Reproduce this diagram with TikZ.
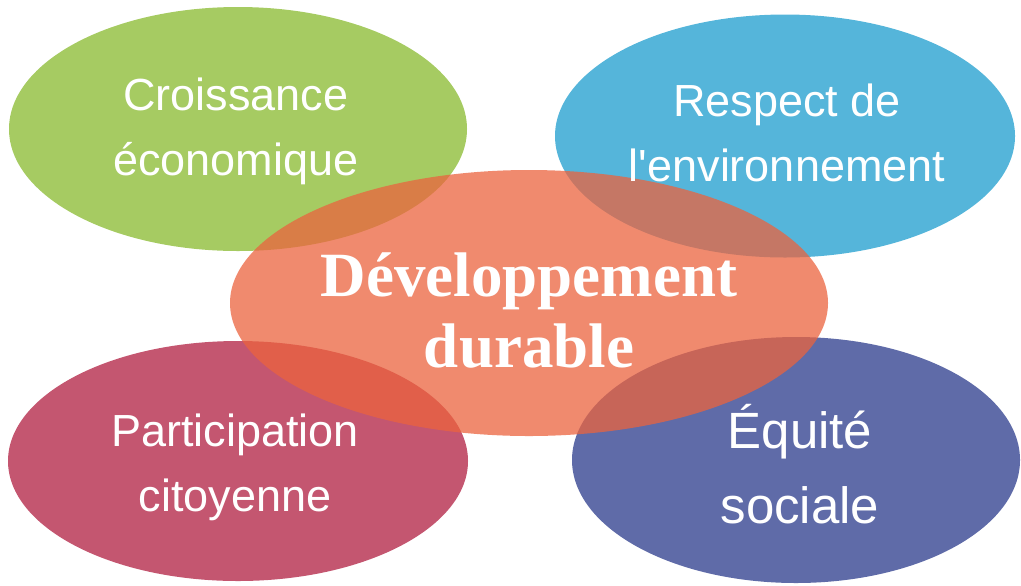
\documentclass[tikz,border=0pt]{standalone}
\usepackage{fontspec}
\setmainfont{Liberation Serif}
\setsansfont[Ligatures=TeXOff]{Liberation Sans}
\usetikzlibrary{shapes.geometric}
\definecolor{vertC}{RGB}{166,203,98}
\definecolor{bleuC}{RGB}{85,181,218}
\definecolor{roseC}{RGB}{196,86,112}
\definecolor{violetC}{RGB}{95,107,168}
\definecolor{corail}{RGB}{235,99,62}
\tikzset{
  bulle/.style={ellipse, inner sep=0pt, outer sep=0pt, draw=none},
  pilier/.style={text=white, align=center, inner sep=0pt,
    font=\sffamily\fontsize{22.5}{32.5}\selectfont},
  centre/.style={text=white, align=center, inner sep=0pt,
    font=\rmfamily\bfseries\fontsize{31.5}{35.5}\selectfont},
}
\begin{document}
\begin{tikzpicture}[x=0.5pt, y=-0.5pt, line join=round]
	\useasboundingbox (0,0) rectangle (1021,585);
	% les quatre piliers
	\node[bulle, fill=vertC, minimum width=229pt, minimum height=122pt] (croissance) at (238,129) {};
	\node[bulle, fill=bleuC, minimum width=230pt, minimum height=121.5pt] (environnement) at (785,136) {};
	\node[bulle, fill=roseC, minimum width=230pt, minimum height=120pt] (participation) at (238,461) {};
	\node[bulle, fill=violetC, minimum width=224pt, minimum height=123pt] (equite) at (796,460) {};
	% au centre
	\node[bulle, fill=corail, fill opacity=0.75, minimum width=299pt, minimum height=133pt] (durable) at (529,303) {};
	% textes
	\node[pilier] at ([xshift=-1pt, yshift=-1pt]croissance.center) {Croissance\\économique};
	\node[pilier] at ([xshift=1pt, yshift=1.5pt]environnement.center) {Respect de\\l'environnement};
	\node[pilier] at ([xshift=-1.5pt, yshift=-3pt]participation.center) {Participation\\citoyenne};
	\node[pilier, font=\sffamily\fontsize{25.5}{37.5}\selectfont] at ([xshift=2pt, yshift=-2pt]equite.center) {Équité\\sociale};
	\node[centre] at ([yshift=-3.5pt]durable.center) {Développement\\durable};
\end{tikzpicture}
\end{document}
